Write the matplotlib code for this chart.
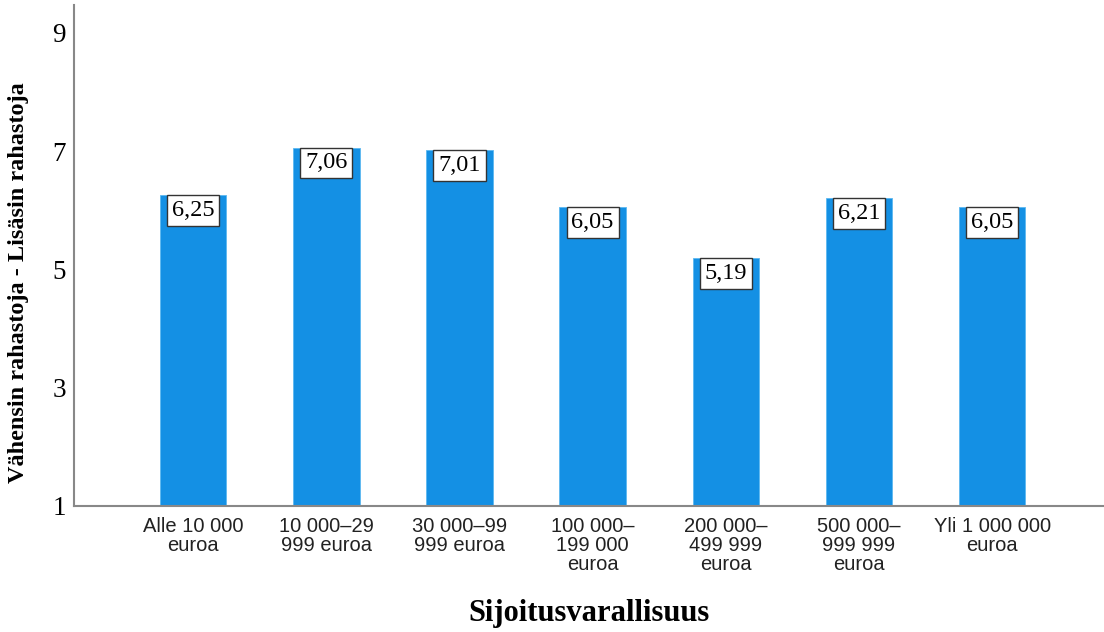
import matplotlib
matplotlib.use("Agg")
import matplotlib.pyplot as plt

categories = ["Alle 10 000\neuroa", "10 000–29\n999 euroa", "30 000–99\n999 euroa",
              "100 000–\n199 000\neuroa", "200 000–\n499 999\neuroa", "500 000–\n999 999\neuroa",
              "Yli 1 000 000\neuroa"]
values = [6.25, 7.06, 7.01, 6.05, 5.19, 6.21, 6.05]
value_labels = ["6,25", "7,06", "7,01", "6,05", "5,19", "6,21", "6,05"]
yticks = [1, 3, 5, 7, 9]

fig = plt.figure(figsize=(11.04, 6.32), dpi=100)
ax = fig.add_axes([0.067, 0.1994, 0.933, 0.7927])

x = list(range(len(categories)))
ax.bar(x, [v - 1 for v in values], bottom=1, width=0.5, color="#1490E4", edgecolor="#5CB8F0", linewidth=0.6)

for xi, v, lab in zip(x, values, value_labels):
    ax.annotate(lab, (xi, v), xytext=(0, -3.5), textcoords="offset points", ha="center", va="top",
                fontsize=17.5, family="Liberation Serif",
                bbox=dict(boxstyle="square,pad=0.2", fc="white", ec="#333333", lw=1))

ax.set_xlim(-0.895, 6.84)
ax.set_ylim(1, 9.47)
ax.set_yticks(yticks)
ax.set_yticklabels([str(t) for t in yticks], family="Liberation Serif", fontsize=19.5)
ax.set_xticks(x)
ax.set_xticklabels(categories, family="Liberation Sans", fontsize=14.5, color="#222222", linespacing=1.0)
ax.tick_params(axis="both", length=0)
ax.tick_params(axis="y", pad=6)
ax.tick_params(axis="x", pad=8)
for s in ["top", "right"]:
    ax.spines[s].set_visible(False)
for s in ["left", "bottom"]:
    ax.spines[s].set_color("#888888")
    ax.spines[s].set_linewidth(1.5)

ax.set_ylabel("Vähensin rahastoja - Lisäsin rahastoja", family="Liberation Serif", fontsize=17.5,
              fontweight="bold")
ax.yaxis.set_label_coords(-0.044, 0.445)
ax.set_xlabel("Sijoitusvarallisuus", family="Liberation Serif", fontsize=22, fontweight="bold", labelpad=18)

fig.savefig("out.png", dpi=100)
